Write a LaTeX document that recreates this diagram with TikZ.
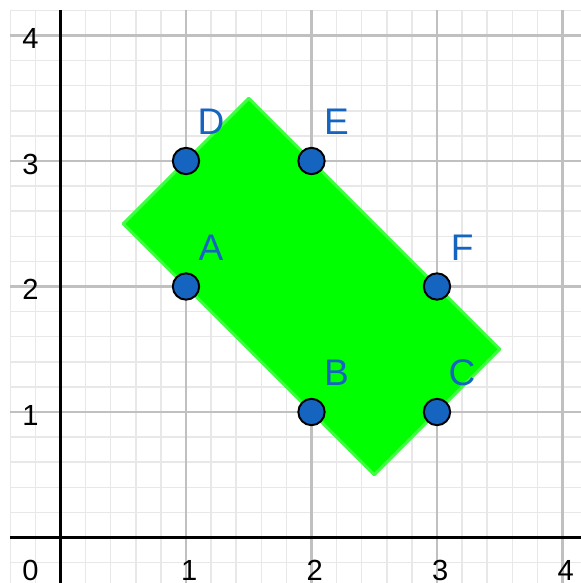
\documentclass[tikz,border=0pt]{standalone}
\usepackage{fontspec}
\setmainfont{Liberation Sans}
\usepackage{tikz}
\definecolor{ptblue}{RGB}{21,101,192}
\definecolor{minorgray}{RGB}{232,232,232}
\definecolor{majorgray}{RGB}{192,192,192}

\begin{document}
\begin{tikzpicture}[x=1cm, y=1cm,
    minor/.style={draw=minorgray, line width=0.35pt},
    major/.style={draw=majorgray, line width=0.5pt},
    axis/.style={draw=black, line width=0.5pt},
    tick/.style={font=\fontsize{6.6}{7}\selectfont, inner sep=0pt},
    pt/.style={circle, draw=black, fill=ptblue, line width=0.45pt, minimum size=0.21cm, inner sep=0pt},
    lab/.style={text=ptblue, font=\fontsize{8.4}{9}\selectfont, inner sep=0pt}]
    \useasboundingbox (-0.482,-0.3625) rectangle (4.147,4.283);
    % grid
    \draw[minor] (-0.4,-0.3625) grid[step=0.2] (4.147,4.2);
    \draw[major] (-0.4,-0.3625) grid[step=1] (4.147,4.2);
    \draw[axis] (-0.4,0) -- (4.147,0);
    \draw[axis] (0,-0.3625) -- (0,4.2);
    % tick labels
    \node (t0) [tick] at (-0.24,-0.26) {0};
    \foreach \i in {1,...,4} {
      \node (tx\i) [tick] at (\i+0.025,-0.26) {\i};
      \node (ty\i) [tick] at (-0.24,\i-0.025) {\i};
    }
    % rectangle
    \filldraw[fill=green, draw=green!75!white, line width=0.7pt, line join=round]
      (1.5,3.5) -- (3.5,1.5) -- (2.5,0.5) -- (0.5,2.5) -- cycle;
    % points
    \foreach \n/\x/\y in {A/1/2, B/2/1, C/3/1, D/1/3, E/2/3, F/3/2} {
      \node (\n) [pt] at (\x,\y) {};
      \node (lab\n) [lab] at (\x+0.2,\y+0.31) {\n};
    }
  \end{tikzpicture}
\end{document}
